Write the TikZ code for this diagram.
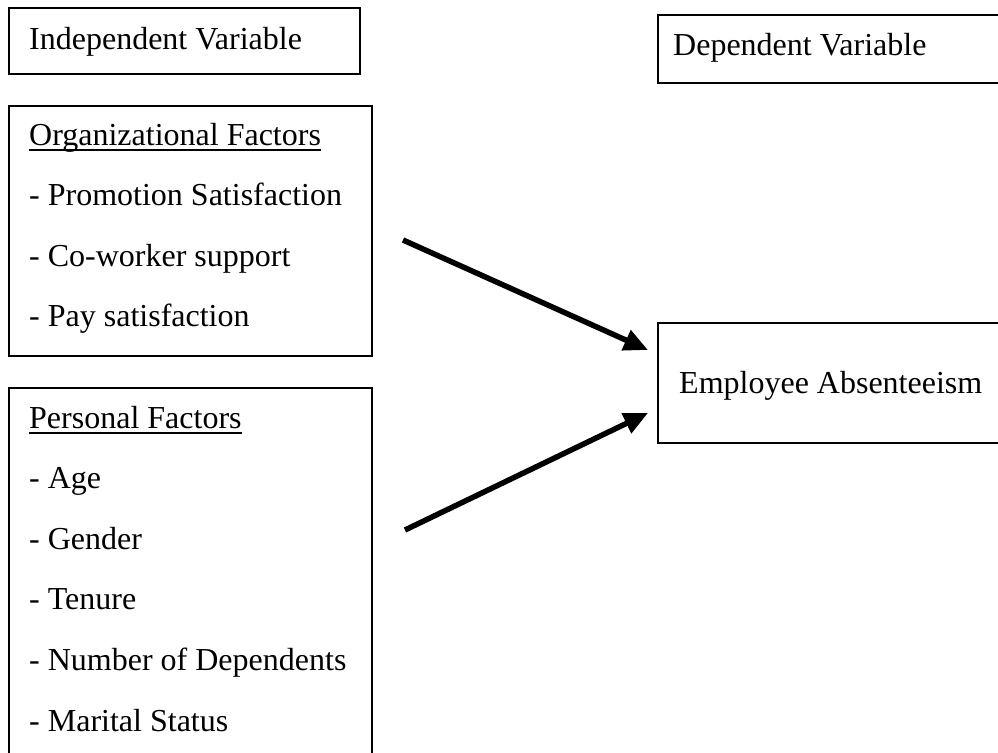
\documentclass[tikz,border=0pt]{standalone}
\usepackage{fontspec}
\setmainfont{Liberation Serif}
\usetikzlibrary{positioning}
\usetikzlibrary{arrows.meta}
\tikzstyle{varbox}=[draw,line width=1.3pt,inner sep=0pt,outer sep=0pt,anchor=north west]
\tikzstyle{entry}=[anchor=base west,inner sep=0pt,font=\fontsize{32}{38}\selectfont]
\tikzstyle{headline}=[draw,line width=1.6pt]
\tikzstyle{edge}=[draw,line width=5.5pt,-{Triangle[length=24pt,width=21pt]}]

\begin{document}
\begin{tikzpicture}[x=1pt,y=-1pt]
    \useasboundingbox (0,0) rectangle (998,752);
    % First we draw the boxes
    \foreach \pos/\name/\bw/\bh in {{(9,8)/ivbox/351/66}, {(9,106)/orgbox/363/250}, {(9,388)/perbox/363/400}, {(658,15)/dvbox/400/68}, {(658,323)/eabox/400/120}}
        \node[varbox,minimum width=\bw pt,minimum height=\bh pt] (\name) at \pos {};

    % Then the variable names
    \foreach \pos/\name/\txt in {{(29,49)/ivtext/Independent Variable}, {(673,56)/dvtext/Dependent Variable}, {(679,393)/eatext/Employee Absenteeism}}
        \node[entry] (\name) at \pos {\txt};

    % Factor lists
    \foreach \pos/\name/\txt in {{(29,145)/orghead/Organizational Factors}, {(29,205.6)/orgA/- Promotion Satisfaction}, {(29,266.2)/orgB/- Co-worker support}, {(29,326.8)/orgC/- Pay satisfaction}, {(29,428)/perhead/Personal Factors}, {(29,488.6)/perA/- Age}, {(29,549.2)/perB/- Gender}, {(29,609.8)/perC/- Tenure}, {(29,670.4)/perD/- Number of Dependents}, {(29,731)/perE/- Marital Status}}
        \node[entry] (\name) at \pos {\txt};

    % underline the headings
    \foreach \name in {orghead, perhead}
        \path[headline] ([yshift=-5pt]\name.base west) -- ([yshift=-5pt]\name.base east);

    % Connect factors to absenteeism
    \coordinate (orgout) at (403,240);
    \coordinate (perout) at (405,530);
    \path[edge] (orgout) -- ([shift={(-10,-33)}]eabox.west);
    \path[edge] (perout) -- ([shift={(-10,30)}]eabox.west);
\end{tikzpicture}
\end{document}
